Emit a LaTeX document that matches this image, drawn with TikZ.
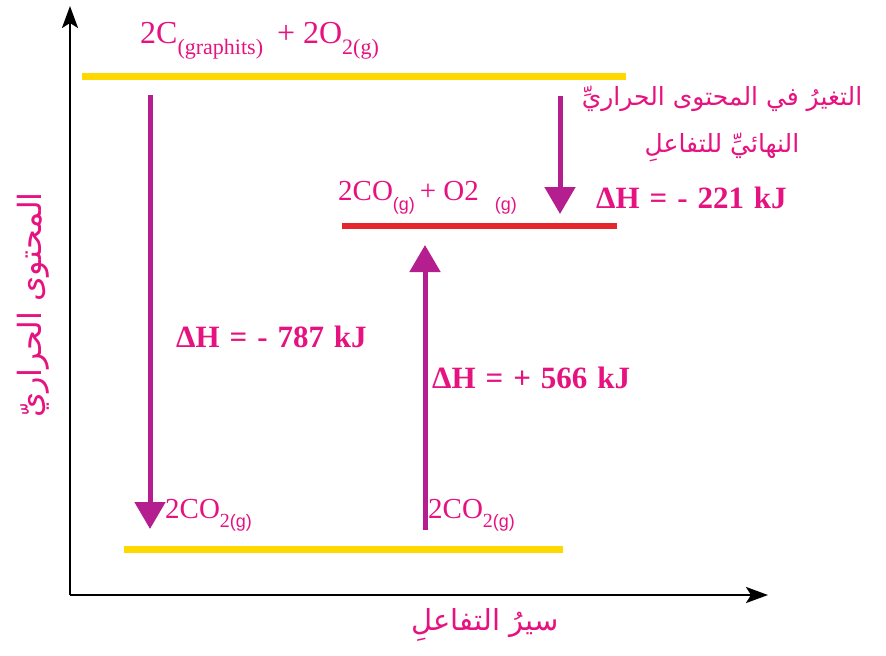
\documentclass[tikz,border=0pt]{standalone}
\usepackage{fontspec}
\setmainfont{Liberation Serif}
\newfontfamily\arabicfont[Script=Arabic]{DejaVu Sans}
\newfontfamily\subsans{Liberation Sans}
\usetikzlibrary{arrows.meta}
\TeXXeTstate=1
\definecolor{txtpink}{HTML}{E6127F}
\definecolor{arrpurple}{HTML}{B41E8E}
\definecolor{lvlyellow}{HTML}{FFD800}
\definecolor{lvlred}{HTML}{E5262B}
\newcommand\chsub[1]{\raisebox{-0.34em}{\fontsize{20bp}{20bp}\selectfont #1}}
\newcommand\chsubbig[1]{\raisebox{-0.34em}{\fontsize{22bp}{22bp}\selectfont #1}}
\newcommand\chsubsf[1]{\raisebox{-0.36em}{\subsans\fontsize{18bp}{18bp}\selectfont #1}}
\newcommand\dhfont{\fontsize{31bp}{36bp}\selectfont\bfseries\spaceskip 0.32em plus 0.1em\relax}
\tikzset{
  axis/.style={line width=2.6bp, black, -{Stealth[length=22bp,width=16bp,inset=5bp]}},
  level/.style={line width=7bp},
  dharrow/.style={line width=5bp, arrpurple, -{Triangle[length=27bp,width=30bp]}},
  chem/.style={inner sep=0pt, text=txtpink, font=\fontsize{29bp}{34bp}\selectfont},
  chemtop/.style={inner sep=0pt, text=txtpink, font=\fontsize{32bp}{36bp}\selectfont},
  dh/.style={inner sep=0pt, text=txtpink, font=\dhfont},
  arlabel/.style={inner sep=0pt, text=txtpink, font=\arabicfont\fontsize{25bp}{47bp}\selectfont},
  aryaxis/.style={inner sep=0pt, text=txtpink, font=\arabicfont\fontsize{32bp}{36bp}\selectfont},
  arxaxis/.style={inner sep=0pt, text=txtpink, font=\arabicfont\fontsize{29bp}{34bp}\selectfont}
}
\begin{document}
\begin{tikzpicture}[x=1bp,y=-1bp]
\useasboundingbox (0,0) rectangle (886,656);
% axes
\coordinate (origin) at (70,595);
\coordinate (ytop) at (70,6);
\coordinate (xend) at (768,595);
\draw[axis] (origin) -- (ytop);
\draw[axis] (origin) -- (xend);
% levels
\coordinate (topL) at (82,77);
\coordinate (topR) at (626,77);
\coordinate (midL) at (342,226);
\coordinate (midR) at (617,226);
\coordinate (botL) at (124,549);
\coordinate (botR) at (563,549);
\draw[level, lvlyellow] (topL) -- (topR);
\draw[level, lvlred, line width=6bp] (midL) -- (midR);
\draw[level, lvlyellow] (botL) -- (botR);
% arrows
\coordinate (a1s) at (150,95);
\coordinate (a1e) at (150,529);
\coordinate (a2s) at (560,96);
\coordinate (a2e) at (560,214);
\coordinate (a3s) at (425,530);
\coordinate (a3e) at (425,245);
\draw[dharrow] (a1s) -- (a1e);
\draw[dharrow] (a2s) -- (a2e);
\draw[dharrow] (a3s) -- (a3e);
% chemistry labels
\node[chemtop, anchor=base west] (reactants) at (140,44) {2C\chsubbig{(graphits)}\hspace{14bp}+ 2O\chsubbig{2(g)}};
\node[chem, anchor=base west] (inter) at (338,200) {2CO\chsubsf{(g)}\,+ O2\hspace{16bp}\chsubsf{(g)}};
\node[chem, anchor=base west] (prodL) at (165,518) {2CO\chsub{2\subsans\fontsize{18bp}{18bp}\selectfont(g)}};
\node[chem, anchor=base west] (prodR) at (428,518) {2CO\chsub{2\subsans\fontsize{18bp}{18bp}\selectfont(g)}};
% enthalpy labels
\node[dh, anchor=base west] (dh1) at (176,347) {ΔH = - 787 kJ};
\node[dh, anchor=base west] (dh2) at (432,388) {ΔH = + 566 kJ};
\node[dh, anchor=base west] (dh3) at (596,208) {ΔH = - 221 kJ};
% arabic labels
\node[arlabel, align=center, anchor=center] (overall) at (722,124) {\beginR التغيرُ في المحتوى الحراريِّ\endR\\ \beginR النهائيِّ للتفاعلِ\endR};
\node[aryaxis, rotate=90, anchor=center] (ylabel) at (33,305) {\beginR المحتوى الحراريّ\endR};
\node[arxaxis, anchor=center] (xlabel) at (485,625) {\beginR سيرُ التفاعلِ\endR};
\end{tikzpicture}
\end{document}
